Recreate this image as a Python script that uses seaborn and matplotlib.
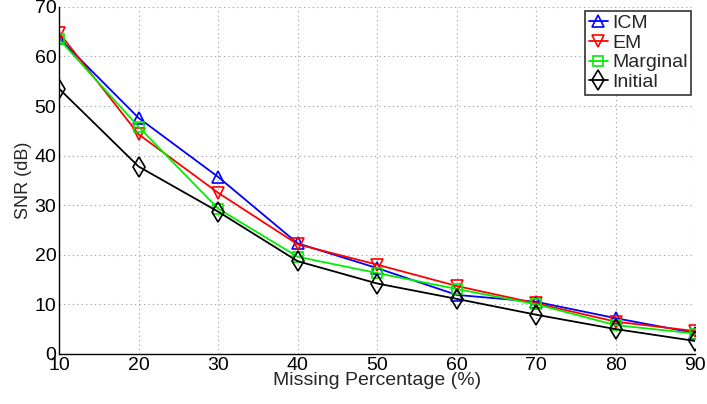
import matplotlib
matplotlib.use("Agg")
import matplotlib.pyplot as plt
import seaborn as sns
import pandas as pd

missing = [10, 20, 30, 40, 50, 60, 70, 80, 90]
icm = [63.7, 47.6, 35.7, 22.3, 17.3, 11.9, 10.5, 7.2, 4.2]
em = [64.8, 44.3, 32.5, 22.1, 18.0, 13.7, 10.2, 6.5, 4.6]
marginal = [63.5, 45.8, 29.3, 19.6, 16.3, 13.1, 10.0, 5.8, 4.1]
initial = [53.5, 37.8, 28.7, 18.7, 14.2, 11.1, 7.9, 5.0, 2.6]

series_names = ["ICM", "EM", "Marginal", "Initial"]
series_vals = [icm, em, marginal, initial]
colors = ["#0000ff", "#ff0000", "#00ee00", "#000000"]
markers = ["^", "v", "s", "d"]
msizes = [9, 9, 7, 10]

sns.set_theme(style="white")
plt.rcParams["font.family"] = ["Liberation Sans", "DejaVu Sans"]

fig = plt.figure(figsize=(7.07, 4.04), dpi=100)
ax = fig.add_axes([0.0835, 0.124, 0.9, 0.859])

for name, vals, c, m, ms in zip(series_names, series_vals, colors, markers, msizes):
    df = pd.DataFrame({"x": missing, "y": vals})
    sns.lineplot(data=df, x="x", y="y", ax=ax, color=c, marker=m, markersize=ms,
                 markerfacecolor="none", markeredgecolor=c, markeredgewidth=1.2,
                 linewidth=1.3, label=name)

ax.set_xlim(10, 90)
ax.set_ylim(0, 70)
ax.set_xticks(missing)
ax.set_yticks(range(0, 71, 10))
ax.grid(True, linestyle=(0, (1, 3)), color="#999999", linewidth=0.8)
ax.tick_params(direction="in", length=4, labelsize=14, colors="black", pad=2)
for s in ["top", "right"]:
    ax.spines[s].set_visible(False)
for s in ["left", "bottom"]:
    ax.spines[s].set_color("black")
    ax.spines[s].set_linewidth(1.0)
ax.set_xlabel("Missing Percentage (%)", fontsize=14, labelpad=-1)
ax.set_ylabel("SNR (dB)", fontsize=13, labelpad=2)

leg = ax.legend(loc="upper right", fontsize=14, frameon=True, fancybox=False,
                edgecolor="black", handlelength=1.0, handletextpad=0.2,
                borderpad=0.2, labelspacing=0.1, borderaxespad=0.2)
leg.get_frame().set_linewidth(1.2)

fig.savefig("out.png", dpi=100)
